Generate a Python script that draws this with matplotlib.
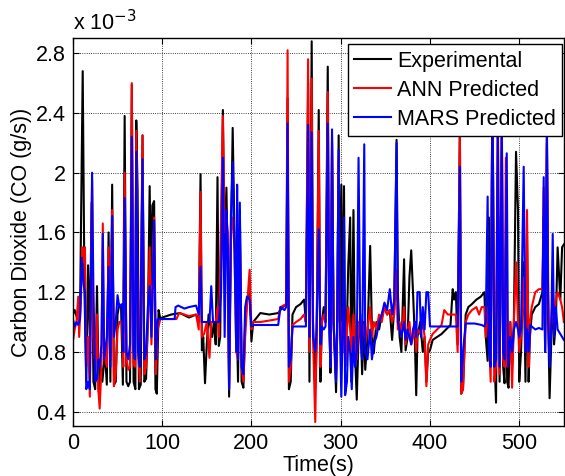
import matplotlib
matplotlib.use('Agg')
import matplotlib.pyplot as plt

# Experimental (black) breakpoints: time (s), CO2 (x 1e-3 g/s)
exp_t = [0, 2, 5, 8, 11, 13, 15, 17, 19, 21, 23, 25, 27, 29, 31, 33, 36, 38, 40, 42,
         44, 46, 48, 50, 52, 54, 56, 58, 60, 62, 64, 66, 68, 70, 71, 72.5, 74, 76, 78, 80,
         82, 84, 86, 87.5, 89, 91, 92.5, 94, 96, 98, 100, 110, 120, 130, 138, 141, 143, 144.5, 146, 148,
         150, 152, 156, 158, 160, 162, 163.5, 165, 168, 170, 172, 173.5, 175, 177, 179, 181, 183, 185, 187, 189,
         191, 193, 195, 198, 200, 202, 206, 210, 220, 230, 235, 239, 240.5, 242, 244, 246, 250, 255, 259, 261,
         263.5, 265, 267.5, 269, 271.5, 273, 275.4, 277.3, 279, 281, 283, 285.5, 287, 288.5, 290.3, 292, 294.8, 296, 297.7, 299,
         300.7, 302, 303.7, 305, 307, 308.5, 310.6, 312, 314.3, 316, 318, 320, 322, 324, 326, 327.5, 330, 333, 335, 337,
         340, 343, 346, 349, 352, 355, 357.6, 360, 362.6, 364, 366, 368, 371, 372.7, 375, 377, 379, 381, 383, 384.6,
         386, 389, 392, 394, 396, 398, 400, 403, 408, 413, 418, 423, 425.5, 427, 429, 431, 433.5, 435, 437, 440,
         443, 447, 452, 457, 461, 462.5, 464.6, 466, 468, 470, 472, 474, 476, 478, 480.5, 482, 483.5, 485, 486.5, 488,
         490, 492, 494, 496.4, 498.6, 500, 502, 505, 507, 508.7, 510.5, 512, 514, 518, 522, 526, 527.4, 529, 531, 532.5,
         534, 536, 537.5, 539, 541, 543, 546, 548, 550]
exp_y = [1.05, 1.08, 1.02, 1.05, 2.68, 1.2, 0.6, 1.38, 0.9, 1.8, 0.6, 0.55, 1.24, 0.53, 0.75, 0.6, 0.8, 0.58, 1.6, 0.6,
         1.92, 0.58, 0.6, 1.05, 1.12, 1.1, 0.58, 2.38, 0.6, 0.57, 0.6, 2.59, 0.6, 0.55, 2.35, 1.88, 0.55, 0.58, 2.25, 0.6,
         0.62, 1.0, 1.91, 1.25, 1.78, 1.81, 0.55, 0.52, 1.08, 1.02, 1.03, 1.05, 1.06, 1.03, 1.05, 1.0, 1.99, 0.81, 0.9, 0.59,
         0.85, 1.05, 0.9, 1.0, 0.85, 1.97, 0.84, 0.9, 2.42, 1.5, 1.9, 1.33, 0.5, 1.5, 2.3, 1.6, 1.2, 0.6, 1.75, 0.6,
         0.56, 1.0, 1.15, 1.2, 0.87, 1.0, 1.03, 1.06, 1.05, 1.06, 1.1, 1.12, 2.5, 0.55, 0.6, 1.05, 1.1, 1.12, 1.15, 1.0,
         2.6, 0.6, 2.88, 1.0, 0.55, 0.85, 2.42, 0.6, 1.0, 1.1, 1.0, 2.71, 1.2, 0.66, 2.2, 1.0, 0.53, 0.9, 2.25, 1.0,
         1.92, 0.8, 1.91, 0.7, 1.0, 1.38, 1.7, 0.6, 1.75, 0.8, 0.48, 0.9, 1.05, 0.65, 1.0, 0.68, 0.9, 1.51, 0.95, 0.79,
         1.0, 0.95, 1.05, 1.1, 1.05, 1.08, 0.88, 1.1, 2.22, 1.2, 0.9, 0.8, 1.42, 0.81, 0.9, 1.3, 1.48, 1.2, 0.9, 0.51,
         0.9, 1.0, 0.8, 0.9, 0.6, 0.8, 0.81, 0.88, 0.9, 0.92, 0.95, 0.98, 1.22, 1.15, 1.2, 0.85, 2.3, 0.52, 0.55, 1.05,
         1.1, 1.12, 1.15, 1.17, 1.2, 0.9, 0.74, 1.7, 0.7, 2.6, 0.8, 0.46, 2.0, 0.6, 2.3, 0.7, 0.59, 1.5, 0.6, 0.56,
         1.0, 0.7, 1.0, 2.14, 1.75, 0.6, 0.8, 1.4, 0.6, 1.6, 0.6, 0.9, 1.05, 1.1, 1.12, 1.2, 1.7, 0.8, 2.2, 1.0,
         0.49, 0.9, 1.3, 0.85, 1.0, 1.5, 1.15, 1.5, 1.52]

# ANN predicted (red)
ann_t = [0, 2, 4, 6, 7, 9, 10.5, 12, 13.5, 15, 17, 19, 21.5, 23, 25, 27, 28.5, 30, 32, 33.5,
         35, 38, 40, 42, 44, 46, 48, 50, 52, 55, 56.5, 58, 60, 62, 64, 66, 68, 69.5, 71, 73,
         75, 78, 80, 82, 84, 86, 88, 91, 93, 95, 98, 110, 116, 119, 125, 130, 138, 141, 143, 144.5,
         147, 150, 153, 155, 160, 162, 163.5, 168, 170, 172, 173.5, 175, 177, 179, 181, 183, 185, 187, 189, 191,
         193, 195, 198, 200, 202, 210, 220, 230, 232.5, 239, 240.5, 242, 244, 246, 250, 255, 259, 261, 263.5, 265,
         267.5, 269, 271.5, 273, 275.4, 277.3, 279, 281, 283, 285.5, 287, 288.5, 290.3, 292, 294.8, 296, 297.7, 299, 300.7, 302,
         303.7, 305, 307, 308.5, 310.6, 312, 314.3, 316, 318, 320, 322, 324, 326, 327.5, 330, 333, 335, 337, 340, 343,
         346, 349, 352, 355, 357.6, 360, 362.6, 364, 366, 368, 371, 372.7, 375, 377, 379, 381, 383, 384.6, 386, 389,
         392, 394, 396, 398, 400, 403, 408, 413, 416, 420, 425, 429, 431, 433.5, 435, 437, 440, 443, 447, 452,
         455, 458, 461, 462.5, 464.6, 466, 468, 470, 472, 474, 476, 478, 480.5, 482, 483.5, 485, 486.5, 488, 490, 492,
         494, 496.4, 498.6, 500, 502, 505, 507, 508.7, 510.5, 512, 514, 518, 522, 526, 527.4, 529, 531, 532.5, 534, 536,
         537.5, 539, 541, 543, 546, 548, 550]
ann_y = [0.87, 0.95, 1.0, 1.17, 0.9, 1.15, 1.5, 1.4, 1.5, 0.7, 0.9, 0.5, 1.95, 0.9, 0.7, 1.05, 0.55, 0.42, 0.7, 1.66,
         0.8, 0.7, 1.5, 0.75, 1.75, 0.57, 0.65, 0.95, 1.0, 1.0, 0.7, 2.0, 0.75, 0.68, 0.7, 2.6, 0.72, 0.7, 2.28, 0.8,
         0.6, 2.25, 0.65, 0.7, 1.0, 1.5, 0.85, 1.7, 0.65, 0.95, 1.02, 1.02, 1.02, 1.06, 1.05, 1.04, 1.05, 0.95, 1.87, 0.9,
         0.92, 1.0, 0.76, 1.0, 1.0, 1.1, 0.9, 2.38, 1.6, 1.7, 1.6, 0.55, 1.6, 1.7, 1.5, 0.8, 0.75, 1.6, 0.7, 0.6,
         0.9, 1.1, 1.35, 0.95, 1.0, 1.0, 1.01, 1.02, 1.1, 1.12, 2.82, 0.6, 0.7, 0.98, 1.0, 1.02, 1.05, 1.0, 2.76, 0.8,
         2.63, 0.9, 0.33, 0.9, 2.28, 0.7, 1.0, 1.05, 1.0, 2.54, 1.1, 0.7, 2.25, 1.0, 0.65, 0.9, 2.1, 1.0, 1.0, 0.85,
         1.1, 0.7, 0.95, 1.1, 0.95, 0.8, 1.05, 0.85, 0.75, 1.0, 0.9, 1.0, 0.95, 0.85, 0.95, 1.1, 0.9, 1.0, 0.95, 1.05,
         1.0, 1.1, 1.05, 1.08, 1.0, 1.05, 1.35, 0.95, 1.0, 0.9, 1.1, 0.85, 0.95, 1.0, 0.85, 0.9, 1.0, 0.8, 0.95, 0.92,
         1.0, 0.9, 0.57, 0.85, 0.88, 0.92, 0.95, 0.98, 1.08, 1.05, 1.05, 1.05, 0.8, 2.3, 0.52, 0.55, 1.0, 1.05, 1.08, 1.1,
         1.05, 1.1, 1.1, 0.9, 1.1, 0.9, 0.6, 2.65, 0.6, 0.7, 2.5, 0.65, 2.4, 0.75, 0.7, 2.1, 0.7, 0.8, 1.0, 0.56,
         1.0, 1.4, 1.0, 0.8, 0.9, 1.3, 0.8, 1.75, 0.7, 1.0, 1.1, 1.2, 1.22, 1.22, 1.9, 0.8, 2.3, 1.2, 0.8, 1.0,
         1.2, 0.95, 1.15, 1.2, 1.15, 1.1, 1.0]

# MARS predicted (blue)
mars_t = [0, 2, 4, 6, 8, 10, 12, 13.5, 15, 17, 19, 21.5, 23, 25, 27, 28.5, 30, 32, 33.5, 35,
          38, 40, 42, 44, 46, 48, 50, 52, 55, 56.5, 58, 60, 62, 64, 66, 68, 69.5, 71, 73, 75,
          78, 80, 82, 84, 86, 88, 91, 93, 95, 100, 110, 114, 115, 118, 125, 130, 138, 141, 143, 144.5,
          147, 150, 153, 155, 157, 160, 162, 163.5, 166, 168, 170, 172, 173.5, 175, 177, 179, 181, 183, 184, 185,
          187, 189, 191, 193, 195, 198, 200, 203, 210, 220, 230, 232.5, 237, 239, 240.5, 242, 244, 246, 250, 255,
          259, 261, 263.5, 265, 267.5, 269, 271.5, 273, 275.4, 277.3, 279, 281, 283, 285.5, 287, 288.5, 290.3, 292, 294.8, 296,
          297.7, 299, 300.7, 302, 303.7, 305, 307, 308.5, 310.6, 312.4, 314.3, 316, 318, 320, 322, 324, 326.4, 327.5, 330, 333,
          335, 337, 340, 343, 346, 349, 352, 355, 357.6, 360, 362.6, 364, 366, 368, 371, 372.7, 375, 377, 379, 381,
          383, 384.6, 386, 388.5, 390, 392, 394, 396, 398, 400, 410, 420, 430, 431, 433.5, 435, 437, 440, 450, 458,
          461, 462.5, 464.6, 466, 468, 470, 472, 474, 476, 478, 480.5, 482, 483.5, 486, 487.5, 490, 492, 494, 496.4, 498.6,
          500, 502, 505, 507, 508.7, 510.5, 512, 514, 518, 522, 526, 527.4, 529, 531, 532.5, 534, 536, 537.5, 539, 541,
          543, 546, 548, 550]
mars_y = [1.02, 0.97, 1.0, 0.98, 1.02, 1.43, 1.25, 1.2, 0.55, 0.6, 0.55, 2.0, 1.2, 0.6, 0.62, 0.75, 0.7, 0.85, 1.59, 0.75,
          0.9, 1.37, 0.7, 1.71, 0.9, 1.0, 1.18, 1.1, 1.12, 0.8, 1.83, 0.8, 0.75, 0.85, 2.24, 0.8, 0.75, 2.14, 0.8, 0.7,
          2.09, 0.75, 0.8, 1.1, 1.24, 0.9, 1.68, 0.75, 1.02, 1.02, 1.02, 1.02, 1.1, 1.11, 1.09, 1.1, 1.11, 1.05, 1.37, 1.0,
          1.0, 1.0, 1.0, 1.24, 1.0, 1.0, 1.0, 1.0, 1.2, 2.1, 0.9, 1.75, 1.5, 0.55, 1.7, 2.07, 1.5, 0.8, 1.92, 0.75,
          1.8, 0.7, 0.65, 1.1, 1.17, 1.15, 0.97, 0.98, 0.98, 0.98, 0.98, 1.1, 1.08, 1.1, 2.33, 0.7, 0.75, 0.97, 0.97, 0.97,
          0.97, 0.97, 2.32, 0.9, 2.27, 0.9, 0.8, 0.95, 1.62, 0.85, 0.97, 0.95, 0.97, 2.33, 1.0, 0.7, 2.29, 1.0, 0.6, 1.0,
          2.15, 1.0, 0.5, 0.9, 1.7, 0.51, 0.6, 0.9, 0.8, 0.55, 0.9, 0.7, 0.8, 2.1, 0.9, 0.75, 2.19, 0.8, 0.75, 0.95,
          0.75, 0.85, 0.9, 1.0, 1.05, 1.13, 1.08, 1.22, 1.05, 1.15, 2.2, 1.0, 0.95, 0.9, 1.0, 0.88, 0.95, 0.9, 0.85, 0.95,
          1.0, 0.9, 1.2, 1.2, 0.9, 1.1, 0.95, 1.2, 1.2, 0.97, 0.97, 0.97, 0.97, 0.97, 2.04, 0.6, 0.8, 0.99, 0.99, 0.98,
          0.97, 1.0, 1.84, 0.8, 0.7, 2.6, 0.7, 0.75, 2.3, 0.7, 2.3, 0.8, 0.75, 2.13, 0.7, 0.9, 0.8, 0.95, 1.0, 0.95,
          0.9, 0.95, 2.04, 0.8, 0.95, 0.8, 0.98, 0.97, 0.95, 0.96, 0.95, 1.97, 0.8, 2.3, 1.0, 0.7, 1.0, 1.59, 0.9, 1.1,
          0.95, 0.92, 0.9, 0.88]

x_ticks = [0, 100, 200, 300, 400, 500]
y_ticks = [0.4, 0.8, 1.2, 1.6, 2.0, 2.4, 2.8]
y_labels = ['0.4', '0.8', '1.2', '1.6', '2', '2.4', '2.8']

plt.rcParams['font.family'] = ['Liberation Sans', 'DejaVu Sans']

fig = plt.figure(figsize=(5.65, 4.76), dpi=100)
ax = fig.add_axes([0.129, 0.1055, 0.869, 0.814])

ax.plot(exp_t, exp_y, color='black', linewidth=1.5, label='Experimental')
ax.plot(ann_t, ann_y, color='#ff0000', linewidth=1.5, label='ANN Predicted')
ax.plot(mars_t, mars_y, color='#0000ff', linewidth=1.5, label='MARS Predicted')

ax.set_xlim(0, 550)
ax.set_ylim(0.305, 2.9)
ax.set_xticks(x_ticks)
ax.set_yticks(y_ticks)
ax.set_yticklabels(y_labels)
ax.tick_params(direction='in', top=True, right=True, labelsize=15.5, length=4, pad=5)
ax.grid(True, color='black', linestyle=':', linewidth=0.6)
for s in ax.spines.values():
    s.set_linewidth(1.0)

ax.set_xlabel('Time(s)', fontsize=15.5, labelpad=1)
ax.set_ylabel('Carbon Dioxide (CO (g/s))', fontsize=15.5, labelpad=3)
ax.text(0.0, 1.008, r'x 10$^{-3}$', transform=ax.transAxes, fontsize=15.5, ha='left', va='bottom')

leg = ax.legend(loc='upper right', bbox_to_anchor=(0.997, 0.985), fontsize=15.5, fancybox=False,
                framealpha=1, edgecolor='black', handlelength=1.7, labelspacing=0.38,
                borderpad=0.3, handletextpad=0.3, borderaxespad=0)
leg.get_frame().set_linewidth(1.0)

fig.savefig('out.png', dpi=100)
